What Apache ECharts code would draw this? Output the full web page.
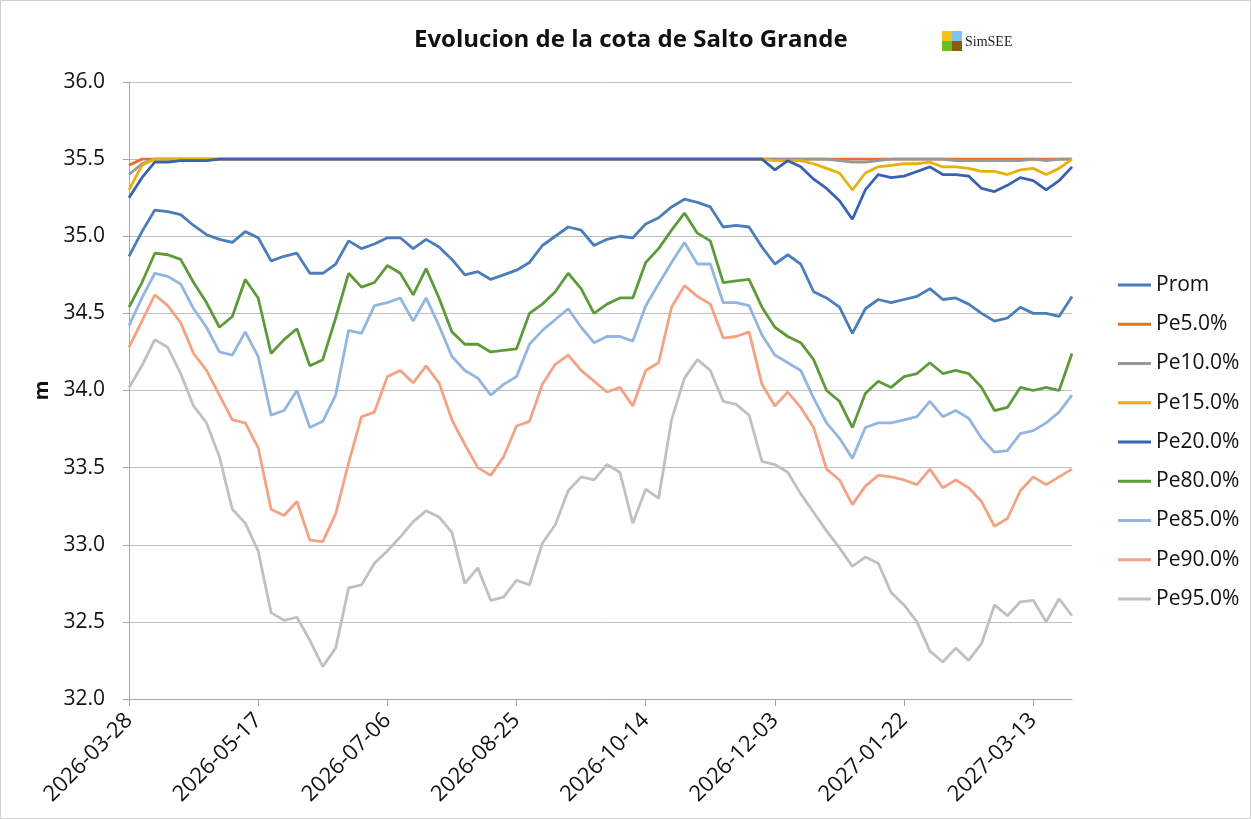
<!DOCTYPE html>
<html>
<head>
<meta charset="utf-8">
<script src="https://cdn.jsdelivr.net/npm/echarts@6/dist/echarts.min.js"></script>
<style>
html,body{margin:0;padding:0;background:#fff;}
#chart{width:1251px;height:819px;box-sizing:border-box;border:1px solid #d0d0d0;}
</style>
</head>
<body>
<div id="chart"></div>
<script>
// ---- Data (one point every 5 days) ----
const startDate = '2026-03-28';
const stepDays = 5;
const pointCount = 74;
const yTicks = [32.0, 32.5, 33.0, 33.5, 34.0, 34.5, 35.0, 35.5, 36.0];
const seriesNames = ['Prom','Pe5.0%','Pe10.0%','Pe15.0%','Pe20.0%','Pe80.0%','Pe85.0%','Pe90.0%','Pe95.0%'];

const prom = [
34.87,35.03,35.17,35.16,35.14,35.07,35.01,34.98,34.96,35.03,
34.99,34.84,34.87,34.89,34.76,34.76,34.82,34.97,34.92,34.95,
34.99,34.99,34.92,34.98,34.93,34.85,34.75,34.77,34.72,34.75,
34.78,34.83,34.94,35.00,35.06,35.04,34.94,34.98,35.00,34.99,
35.08,35.12,35.19,35.24,35.22,35.19,35.06,35.07,35.06,34.93,
34.82,34.88,34.82,34.64,34.60,34.54,34.37,34.53,34.59,34.57,
34.59,34.61,34.66,34.59,34.60,34.56,34.50,34.45,34.47,34.54,
34.50,34.50,34.48,34.61];
const pe5 = [
35.46,35.50,35.50,35.50,35.50,35.50,35.50,35.50,35.50,35.50,
35.50,35.50,35.50,35.50,35.50,35.50,35.50,35.50,35.50,35.50,
35.50,35.50,35.50,35.50,35.50,35.50,35.50,35.50,35.50,35.50,
35.50,35.50,35.50,35.50,35.50,35.50,35.50,35.50,35.50,35.50,
35.50,35.50,35.50,35.50,35.50,35.50,35.50,35.50,35.50,35.50,
35.50,35.50,35.50,35.50,35.50,35.50,35.50,35.50,35.50,35.50,
35.50,35.50,35.50,35.50,35.50,35.50,35.50,35.50,35.50,35.50,
35.50,35.50,35.50,35.50];
const pe10 = [
35.40,35.47,35.50,35.50,35.50,35.50,35.50,35.50,35.50,35.50,
35.50,35.50,35.50,35.50,35.50,35.50,35.50,35.50,35.50,35.50,
35.50,35.50,35.50,35.50,35.50,35.50,35.50,35.50,35.50,35.50,
35.50,35.50,35.50,35.50,35.50,35.50,35.50,35.50,35.50,35.50,
35.50,35.50,35.50,35.50,35.50,35.50,35.50,35.50,35.50,35.50,
35.50,35.50,35.50,35.50,35.50,35.49,35.48,35.48,35.49,35.50,
35.50,35.50,35.50,35.50,35.49,35.49,35.49,35.49,35.49,35.49,
35.50,35.49,35.50,35.50];
const pe15 = [
35.30,35.46,35.50,35.50,35.50,35.50,35.50,35.50,35.50,35.50,
35.50,35.50,35.50,35.50,35.50,35.50,35.50,35.50,35.50,35.50,
35.50,35.50,35.50,35.50,35.50,35.50,35.50,35.50,35.50,35.50,
35.50,35.50,35.50,35.50,35.50,35.50,35.50,35.50,35.50,35.50,
35.50,35.50,35.50,35.50,35.50,35.50,35.50,35.50,35.50,35.50,
35.49,35.49,35.49,35.47,35.44,35.41,35.30,35.41,35.45,35.46,
35.47,35.47,35.48,35.45,35.45,35.44,35.42,35.42,35.40,35.43,
35.44,35.40,35.44,35.50];
const pe20 = [
35.25,35.38,35.48,35.48,35.49,35.49,35.49,35.50,35.50,35.50,
35.50,35.50,35.50,35.50,35.50,35.50,35.50,35.50,35.50,35.50,
35.50,35.50,35.50,35.50,35.50,35.50,35.50,35.50,35.50,35.50,
35.50,35.50,35.50,35.50,35.50,35.50,35.50,35.50,35.50,35.50,
35.50,35.50,35.50,35.50,35.50,35.50,35.50,35.50,35.50,35.50,
35.43,35.49,35.45,35.37,35.31,35.23,35.11,35.30,35.40,35.38,
35.39,35.42,35.45,35.40,35.40,35.39,35.31,35.29,35.33,35.38,
35.36,35.30,35.36,35.45];
const pe80 = [
34.54,34.70,34.89,34.88,34.85,34.70,34.57,34.41,34.48,34.72,
34.60,34.24,34.33,34.40,34.16,34.20,34.47,34.76,34.67,34.70,
34.81,34.76,34.62,34.79,34.60,34.38,34.30,34.30,34.25,34.26,
34.27,34.50,34.56,34.64,34.76,34.66,34.50,34.56,34.60,34.60,
34.83,34.92,35.04,35.15,35.02,34.97,34.70,34.71,34.72,34.54,
34.41,34.35,34.31,34.20,34.00,33.93,33.76,33.98,34.06,34.02,
34.09,34.11,34.18,34.11,34.13,34.11,34.02,33.87,33.89,34.02,
34.00,34.02,34.00,34.24];
const pe85 = [
34.42,34.60,34.76,34.74,34.69,34.53,34.41,34.25,34.23,34.38,
34.22,33.84,33.87,34.00,33.76,33.80,33.97,34.39,34.37,34.55,
34.57,34.60,34.45,34.60,34.42,34.22,34.13,34.08,33.97,34.04,
34.09,34.30,34.39,34.46,34.53,34.41,34.31,34.35,34.35,34.32,
34.55,34.69,34.83,34.96,34.82,34.82,34.57,34.57,34.55,34.36,
34.23,34.18,34.13,33.95,33.79,33.69,33.56,33.76,33.79,33.79,
33.81,33.83,33.93,33.83,33.87,33.82,33.69,33.60,33.61,33.72,
33.74,33.79,33.86,33.97];
const pe90 = [
34.28,34.45,34.62,34.55,34.44,34.24,34.13,33.97,33.81,33.79,
33.63,33.23,33.19,33.28,33.03,33.02,33.20,33.53,33.83,33.86,
34.09,34.13,34.05,34.16,34.05,33.81,33.65,33.50,33.45,33.57,
33.77,33.80,34.04,34.17,34.23,34.13,34.06,33.99,34.02,33.90,
34.13,34.18,34.54,34.68,34.61,34.56,34.34,34.35,34.38,34.04,
33.90,33.99,33.89,33.76,33.49,33.42,33.26,33.38,33.45,33.44,
33.42,33.39,33.49,33.37,33.42,33.37,33.28,33.12,33.17,33.35,
33.44,33.39,33.44,33.49];
const pe95 = [
34.02,34.16,34.33,34.28,34.11,33.90,33.79,33.57,33.23,33.14,
32.96,32.56,32.51,32.53,32.38,32.21,32.33,32.72,32.74,32.88,
32.96,33.05,33.15,33.22,33.18,33.08,32.75,32.85,32.64,32.66,
32.77,32.74,33.01,33.13,33.35,33.44,33.42,33.52,33.47,33.14,
33.36,33.30,33.81,34.08,34.20,34.13,33.93,33.91,33.84,33.54,
33.52,33.47,33.33,33.21,33.09,32.98,32.86,32.92,32.88,32.69,
32.61,32.50,32.31,32.24,32.33,32.25,32.36,32.61,32.54,32.63,
32.64,32.50,32.65,32.54];

// ---- Categories (dates every 5 days) ----
function buildDates(start, step, n) {
  const out = [];
  const t0 = Date.parse(start + 'T00:00:00Z');
  for (let i = 0; i < n; i++) {
    const d = new Date(t0 + i * step * 86400000);
    const mm = String(d.getUTCMonth() + 1).padStart(2, '0');
    const dd = String(d.getUTCDate()).padStart(2, '0');
    out.push(d.getUTCFullYear() + '-' + mm + '-' + dd);
  }
  return out;
}
const dates = buildDates(startDate, stepDays, pointCount);

const seriesData = [prom, pe5, pe10, pe15, pe20, pe80, pe85, pe90, pe95];
const colors = ['#4A7EBB','#E8702A','#989898','#E8B00A','#3A62B0','#5F9A3A','#93B6E0','#F3A283','#C0C0C0'];

const FONT = '"Open Sans", "Noto Sans", sans-serif';

const chart = echarts.init(document.getElementById('chart'), null, {renderer: 'canvas'});
chart.setOption({
  animation: false,
  backgroundColor: '#fff',
  color: colors,
  title: {
    text: 'Evolucion de la cota de Salto Grande',
    left: 408, top: 22,
    textStyle: {fontFamily: FONT, fontSize: 24, fontWeight: 'bold', color: '#111'}
  },
  graphic: [
    {type: 'rect', shape: {x: 941, y: 30, width: 10, height: 10}, style: {fill: '#F2C31B'}},
    {type: 'rect', shape: {x: 951, y: 30, width: 10, height: 10}, style: {fill: '#7CC4F2'}},
    {type: 'rect', shape: {x: 941, y: 40, width: 10, height: 10}, style: {fill: '#6BBF22'}},
    {type: 'rect', shape: {x: 951, y: 40, width: 10, height: 10}, style: {fill: '#8E5B12'}},
    {type: 'text', x: 964, y: 41, style: {text: 'SimSEE', fontFamily: '"Liberation Serif", "DejaVu Serif", serif', fontSize: 14, fill: '#222', verticalAlign: 'middle'}}
  ],
  legend: {
    orient: 'vertical',
    left: 1117, top: 273,
    padding: 0,
    icon: 'rect',
    itemWidth: 33, itemHeight: 3, itemGap: 17.25,
    data: seriesNames,
    textStyle: {fontFamily: FONT, fontSize: 21, color: '#111', lineHeight: 22, padding: [0, 0, 0, 0]}
  },
  grid: {left: 128, top: 81, width: 943, height: 617, containLabel: false},
  xAxis: {
    type: 'category',
    data: dates,
    boundaryGap: false,
    axisLine: {lineStyle: {color: '#A6A6A6', width: 1}},
    axisTick: {show: true, interval: 9, length: 7, lineStyle: {color: '#A6A6A6'}},
    axisLabel: {interval: 9, rotate: 45, fontFamily: FONT, fontSize: 22, color: '#111', margin: 18},
    splitLine: {show: false}
  },
  yAxis: {
    type: 'value',
    min: yTicks[0], max: yTicks[yTicks.length - 1], interval: 0.5,
    name: 'm', nameLocation: 'middle', nameGap: 72, nameRotate: 90,
    nameTextStyle: {fontFamily: FONT, fontSize: 20, fontWeight: 'bold', color: '#111'},
    axisLine: {show: true, lineStyle: {color: '#A6A6A6', width: 1}},
    axisTick: {show: true, length: 6, lineStyle: {color: '#A6A6A6'}},
    axisLabel: {fontFamily: FONT, fontSize: 21, color: '#111', margin: 24, formatter: v => v.toFixed(1)},
    splitLine: {show: true, lineStyle: {color: '#BFBFBF', width: 1}}
  },
  series: seriesNames.map((n, i) => ({
    name: n,
    type: 'line',
    data: seriesData[i],
    symbol: 'none',
    smooth: false,
    lineStyle: {width: 2.8, color: colors[i]},
    itemStyle: {color: colors[i]}
  }))
});
</script>
</body>
</html>
